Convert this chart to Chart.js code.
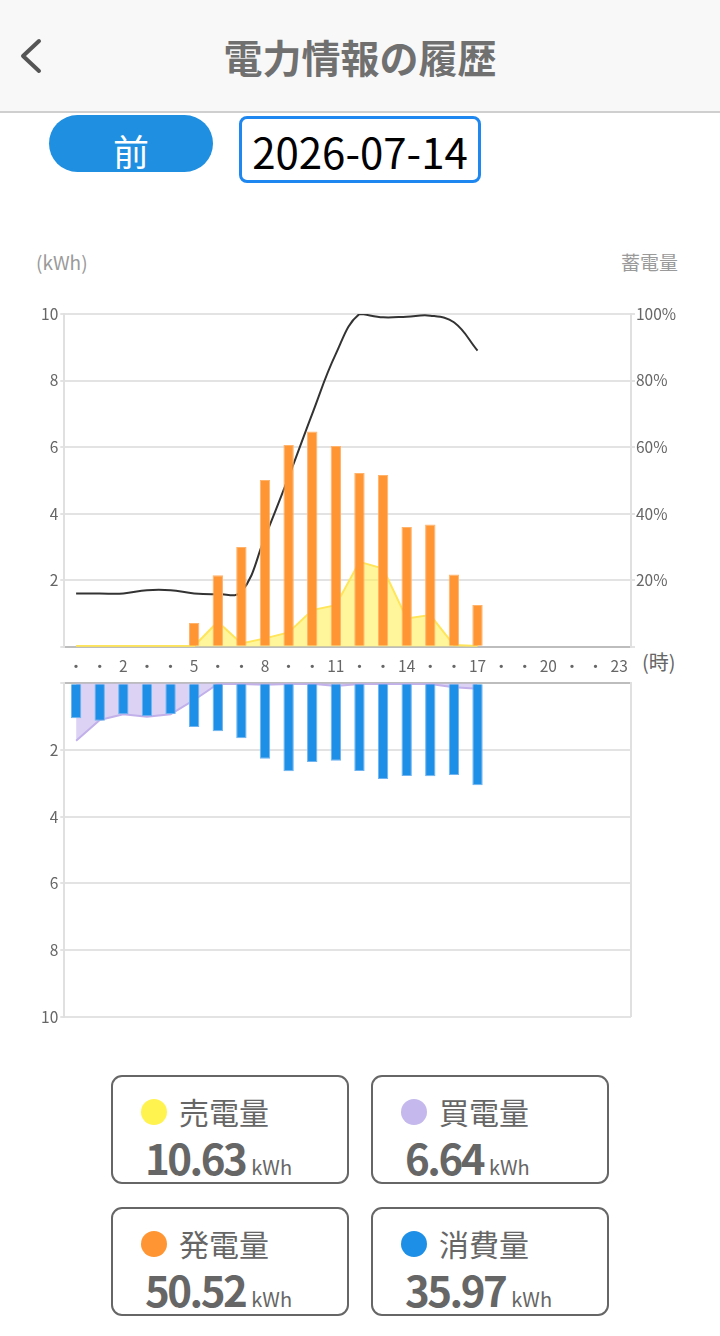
<!DOCTYPE html>
<html lang="ja">
<head>
<meta charset="utf-8">
<script src="https://cdn.jsdelivr.net/npm/chart.js@4.4.1/dist/chart.umd.min.js"></script>
<style>
  html,body{margin:0;padding:0;background:#fff;width:720px;height:1336px;overflow:hidden;font-family:"Noto Sans CJK JP","Noto Sans",sans-serif;}
  .abs{position:absolute;}
  #header{left:0;top:0;width:720px;height:111px;background:#f8f8f8;border-bottom:2px solid #cfcfcf;}
  #title{left:0;top:0;width:720px;height:112px;line-height:112px;text-align:center;font-size:39px;font-weight:bold;color:#707070;}
  #back{left:14px;top:36px;}
  #prev{left:49px;top:115px;width:164px;height:57px;border-radius:29px;background:#1e8fe1;color:#fff;font-size:36px;line-height:70px;text-align:center;overflow:hidden;}
  #date{left:239px;top:116px;width:236px;height:61px;border:3px solid #1e88f0;border-radius:8px;background:#fff;color:#000;font-size:42px;line-height:64px;text-align:center;}
  .axlabel{font-size:19px;color:#9a9a9a;}
  .card{width:238px;height:109px;border:2px solid #666;border-radius:11px;box-sizing:border-box;}
  .dot{position:absolute;left:28px;top:22px;width:26px;height:26px;border-radius:50%;}
  .lab{position:absolute;left:66px;top:14px;font-size:30px;line-height:40px;color:#666;}
  .val{position:absolute;left:32px;top:56px;font-size:42px;line-height:48px;font-weight:bold;color:#666;letter-spacing:-2.5px;white-space:nowrap;}
  .val span{font-size:20px;font-weight:normal;letter-spacing:0;margin-left:6px;}
</style>
</head>
<body>
<div id="header" class="abs"></div>
<div id="title" class="abs">電力情報の履歴</div>
<svg id="back" class="abs" width="34" height="40" viewBox="0 0 34 40"><polyline points="25,5 9,20 25,35" fill="none" stroke="#555" stroke-width="4" stroke-linecap="round" stroke-linejoin="round"/></svg>
<div id="prev" class="abs">前</div>
<div id="date" class="abs">2026-07-14</div>

<div class="abs axlabel" style="left:36px;top:248px;">(kWh)</div>
<div class="abs axlabel" style="left:621px;top:248px;">蓄電量</div>
<div class="abs" style="left:642px;top:647px;font-size:20px;color:#666;">(時)</div>

<div class="abs" style="left:0;top:290px;width:720px;height:390px;"><canvas id="top"></canvas></div>
<div class="abs" style="left:0;top:670px;width:720px;height:360px;"><canvas id="bottom"></canvas></div>

<div class="abs card" style="left:111px;top:1075px;"><div class="dot" style="background:#fff350;"></div><div class="lab">売電量</div><div class="val">10.63<span>kWh</span></div></div>
<div class="abs card" style="left:371px;top:1075px;"><div class="dot" style="background:#c4b8ec;"></div><div class="lab">買電量</div><div class="val">6.64<span>kWh</span></div></div>
<div class="abs card" style="left:111px;top:1207px;"><div class="dot" style="background:#ff9533;"></div><div class="lab">発電量</div><div class="val">50.52<span>kWh</span></div></div>
<div class="abs card" style="left:371px;top:1207px;"><div class="dot" style="background:#1e8fe6;"></div><div class="lab">消費量</div><div class="val">35.97<span>kWh</span></div></div>

<script>
// ---- data ----
const hourLabels = ['・','・','2','・','・','5','・','・','8','・','・','11','・','・','14','・','・','17','・','・','20','・','・','23'];
const generation = [null,null,null,null,null,0.71,2.15,3.0,5.01,6.06,6.47,6.03,5.22,5.16,3.6,3.67,2.17,1.25,null,null,null,null,null,null];
const sold = [0.02,0.02,0.02,0.02,0.02,0.02,0.75,0.1,0.25,0.43,1.1,1.25,2.55,2.35,0.85,0.95,0.05,0.02,null,null,null,null,null,null];
const battery = [16,16,16,17,17,16,15.8,16.5,33,51,70,88,100,99,99.2,99.5,97.5,89,null,null,null,null,null,null];
const consumption = [1.05,1.12,0.93,0.99,0.92,1.31,1.44,1.65,2.26,2.64,2.36,2.32,2.63,2.87,2.78,2.79,2.75,3.06,null,null,null,null,null,null];
const bought = [1.72,1.1,0.93,1.0,0.93,0.5,0.02,0.02,0.04,0.02,0.01,0.08,0.02,0.02,0.02,0.02,0.12,0.16,null,null,null,null,null,null];

const FONT = {family:'"Noto Sans CJK JP","Noto Sans",sans-serif', size:15.5};
const TICK = '#666';
const GRID = '#e3e3e3';

function fixW(w){ return function(s){ s.width = w; }; }
function fixH(h){ return function(s){ s.height = h; }; }

new Chart(document.getElementById('top'), {
  data: {
    labels: hourLabels,
    datasets: [
      {type:'bar', data: generation, backgroundColor:'#ff9533', borderColor:'#ffb36b', borderWidth:1,
       barPercentage:0.44, categoryPercentage:1, yAxisID:'y', order:1},
      {type:'line', data: battery, borderColor:'#333', borderWidth:2, pointRadius:0, tension:0.4,
       fill:false, yAxisID:'y1', order:2},
      {type:'line', data: sold, borderColor:'#ffe55a', backgroundColor:'rgba(255,240,90,0.6)', borderWidth:2,
       pointRadius:0, tension:0, fill:'origin', yAxisID:'y', order:3}
    ]
  },
  options: {
    responsive:true, maintainAspectRatio:false, animation:false,
    layout:{padding:{top:24, left:0, right:0, bottom:0}},
    plugins:{legend:{display:false}, tooltip:{enabled:false}},
    scales:{
      x:{position:'bottom', offset:true,
         grid:{display:false},
         border:{display:true, color:'#bdbdbd', width:2},
         ticks:{color:TICK, font:FONT, autoSkip:false, maxRotation:0, padding:2},
         afterFit:fixH(33.3)},
      y:{position:'left', min:0, max:10,
         grid:{color:GRID, lineWidth:2, tickLength:4},
         border:{display:true, color:'#e0e0e0', width:2},
         ticks:{color:TICK, font:FONT, stepSize:2, padding:2,
                callback:(v)=> v===0 ? '' : v},
         afterFit:fixW(64.3)},
      y1:{position:'right', min:0, max:100,
         grid:{drawOnChartArea:false, color:GRID, lineWidth:2, tickLength:4},
         border:{display:true, color:'#e0e0e0', width:2},
         ticks:{color:TICK, font:FONT, stepSize:20, padding:1,
                callback:(v)=> v===0 ? '' : v + '%'},
         afterFit:fixW(89)}
    }
  }
});

new Chart(document.getElementById('bottom'), {
  data: {
    labels: hourLabels,
    datasets: [
      {type:'bar', data: consumption, backgroundColor:'#1e8fe6', borderColor:'#6fb4f0', borderWidth:1,
       barPercentage:0.44, categoryPercentage:1, order:1},
      {type:'line', data: bought, borderColor:'#c2b0ea', backgroundColor:'rgba(200,186,238,0.65)', borderWidth:2,
       pointRadius:0, tension:0, fill:'origin', order:2}
    ]
  },
  options: {
    responsive:true, maintainAspectRatio:false, animation:false,
    layout:{padding:{top:13.3, left:0, right:0, bottom:13.3}},
    plugins:{legend:{display:false}, tooltip:{enabled:false}},
    scales:{
      x:{position:'top', offset:true,
         grid:{display:false},
         border:{display:true, color:'#bdbdbd', width:2},
         ticks:{display:false},
         afterFit:fixH(0)},
      y:{position:'left', min:0, max:10, reverse:true,
         grid:{color:GRID, lineWidth:2, tickLength:4},
         border:{display:true, color:'#e0e0e0', width:2},
         ticks:{color:TICK, font:FONT, stepSize:2, padding:2,
                callback:(v)=> v===0 ? '' : v},
         afterFit:fixW(64.3)},
      y1:{position:'right', min:0, max:10, reverse:true,
         grid:{drawOnChartArea:false, drawTicks:false},
         border:{display:true, color:'#e0e0e0', width:2},
         ticks:{display:false},
         afterFit:fixW(89)}
    }
  }
});
</script>
</body>
</html>
